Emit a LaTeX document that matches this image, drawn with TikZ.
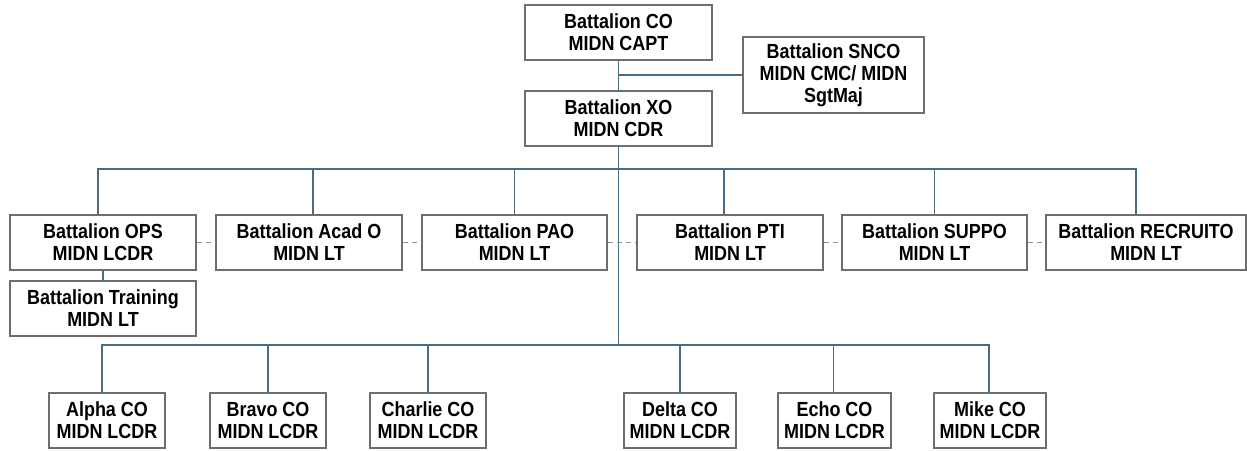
\documentclass[tikz,border=0pt]{standalone}
\usepackage{fontspec}
\setmainfont{Liberation Sans}[FakeStretch=0.88]
\usepackage{tikz}
\definecolor{linkblue}{RGB}{72,108,132}
\definecolor{boxgray}{RGB}{110,110,110}
\tikzset{%
  % Specifications for style of nodes:
            base/.style = {rectangle, draw=boxgray, line width=0.6pt,
                           minimum height=27.5pt, inner sep=0pt,
                           text centered, align=center,
                           font=\fontsize{10.2}{11}\selectfont\bfseries},
          rowbox/.style = {base, minimum width=93pt},
          cobox/.style  = {base, minimum width=57pt},
  % Specifications for style of lines:
         orgline/.style = {draw=linkblue, line width=0.6pt},
        dashline/.style = {draw=linkblue!70, line width=0.6pt,
                           dash pattern=on 2.5pt off 2pt},
}

\begin{document}
\begin{tikzpicture}[x=0.5pt, y=-0.5pt]
  \useasboundingbox (0,0) rectangle (1247,450);
  % Specification of nodes (position, etc.)
  \node (co)       [rowbox, minimum width=93.5pt] at (618.5,32.5)  {Battalion CO\\MIDN CAPT};
  \node (xo)       [rowbox, minimum width=93.5pt] at (618.5,118.5) {Battalion XO\\MIDN CDR};
  \node (snco)     [base, minimum width=90.5pt, minimum height=38pt] at (833.5,75)
                   {Battalion SNCO\\MIDN CMC/ MIDN\\SgtMaj};
  \node (ops)      [rowbox] at (103,242.5)   {Battalion OPS\\MIDN LCDR};
  \node (acad)     [rowbox] at (309,242.5)   {Battalion Acad O\\MIDN LT};
  \node (pao)      [rowbox, minimum width=92.5pt] at (514.5,242.5) {Battalion PAO\\MIDN LT};
  \node (pti)      [rowbox] at (730,242.5)   {Battalion PTI\\MIDN LT};
  \node (suppo)    [rowbox, minimum width=92.5pt] at (934.5,242.5) {Battalion SUPPO\\MIDN LT};
  \node (recruito) [rowbox, minimum width=100pt] at (1146,242.5)  {Battalion RECRUITO\\MIDN LT};
  \node (train)    [rowbox] at (103,308.5)   {Battalion Training\\MIDN LT};
  \node (alpha)    [cobox, minimum width=58pt] at (107,420.5)   {Alpha CO\\MIDN LCDR};
  \node (bravo)    [cobox, minimum width=58pt] at (268,420.5)   {Bravo CO\\MIDN LCDR};
  \node (charlie)  [cobox, minimum width=58pt] at (428,420.5)   {Charlie CO\\MIDN LCDR};
  \node (delta)    [cobox, minimum width=56pt] at (680,420.5)   {Delta CO\\MIDN LCDR};
  \node (echo)     [cobox, minimum width=56.5pt] at (834.5,420.5) {Echo CO\\MIDN LCDR};
  \node (mike)     [cobox, minimum width=56pt] at (990,420.5)   {Mike CO\\MIDN LCDR};

  \coordinate (midbus) at (618.5,169);
  \coordinate (lowbus) at (618.5,345);

  % Specification of lines between nodes specified above
  % (drops are a little off centre, as in the chart)
\draw[orgline] (co) -- (xo);
\draw[orgline] (snco.west) -- (co.south |- snco.west);
\draw[orgline] (xo) -- (lowbus);
\foreach \n/\d in {ops/-5,acad/4,pao/0,pti/-6,suppo/0,recruito/-10}
  \draw[orgline] ([xshift=\d*0.5pt]\n.north) |- (midbus);
\foreach \n/\d in {alpha/-5,bravo/0,charlie/0,delta/0,echo/-1,mike/-1}
  \draw[orgline] ([xshift=\d*0.5pt]\n.north) |- (lowbus);
\draw[orgline] (ops) -- (train);
\draw[dashline] (ops) -- (acad);
\draw[dashline] (acad) -- (pao);
\draw[dashline] (pao) -- (pti);
\draw[dashline] (pti) -- (suppo);
\draw[dashline] (suppo) -- (recruito);
\end{tikzpicture}
\end{document}
